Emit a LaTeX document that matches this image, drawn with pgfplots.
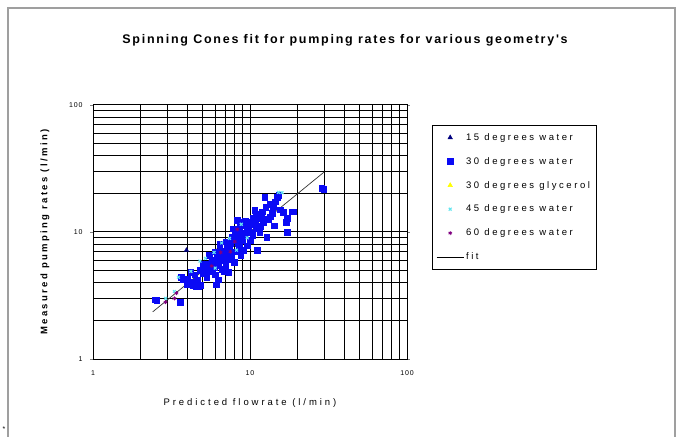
\documentclass[border=0pt]{standalone}
\usepackage{pgfplots}
\pgfplotsset{compat=1.18}
\usepackage{fontspec}
\setmainfont{Liberation Sans}
\newfontfamily\titlefont[LetterSpace=14]{Liberation Sans}
\newfontfamily\labfont[LetterSpace=31]{Liberation Sans}
\newfontfamily\ylabfont[LetterSpace=25]{Liberation Sans}
\newfontfamily\legfont[LetterSpace=27]{Liberation Sans}
\newfontfamily\tickfont[LetterSpace=12]{Liberation Sans}
\definecolor{navyc}{RGB}{0,0,128}
\definecolor{bluec}{RGB}{10,10,245}
\definecolor{cyanc}{RGB}{100,230,240}
\definecolor{purplec}{RGB}{128,0,128}
\definecolor{yellowc}{RGB}{255,255,0}
\begin{document}
\begin{tikzpicture}[x=1pt,y=1pt]
\path[use as bounding box] (0,0) rectangle (682,436);
\draw[gray!75, line width=1.2pt] (8,-3) -- (8,428) -- (675,428) -- (675,-3);
\node at (345,396) {\titlefont\bfseries\fontsize{12.5}{14}\selectfont Spinning Cones fit for pumping rates for various geometry's};
\node at (4,7) {\fontsize{7}{8}\selectfont *};
\begin{axis}[
  at={(93pt,77pt)}, anchor=south west,
  scale only axis, width=314pt, height=254pt,
  xmode=log, ymode=log,
  xmin=1, xmax=100, ymin=1, ymax=100,
  grid=both,
  major grid style={black, line width=1.0pt},
  minor grid style={black, line width=1.0pt},
  axis line style={black, line width=1.0pt},
  xtick={1,10,100}, ytick={1,10,100},
  xticklabels={1,10,100}, yticklabels={1,10,100},
  tick align=outside, major tick length=3pt, minor tick length=0pt,
  xtick style={draw=none},
  ticklabel style={font=\tickfont\fontsize{7}{8}\selectfont},
  xticklabel style={yshift=-5pt},
  yticklabel style={xshift=-4pt},
  xlabel={\labfont\fontsize{9.5}{11}\selectfont Predicted flowrate (l/min)},
  ylabel={\ylabfont\bfseries\fontsize{9.5}{11}\selectfont Measured pumping rates (l/min)},
  xlabel style={at={(axis description cs:0.5,-0.173)}, anchor=center},
  ylabel style={at={(axis description cs:-0.153,0.5)}, anchor=center},
  legend style={at={(1.0796,0.921)}, anchor=north west, draw=black, line width=0.6pt,
    fill=white, font=\legfont\fontsize{9.5}{10.5}\selectfont, row sep=11.5pt,
    inner xsep=4pt, inner ysep=6pt},
  legend cell align=left,
  legend image code/.code={\draw[mark repeat=2,mark phase=2,#1] plot coordinates {(0pt,0pt) (13.5pt,0pt) (27pt,0pt)};},
]
% 15 degrees water
\addplot[only marks, mark=triangle*, mark size=2.5pt, color=navyc] coordinates {
(3.94,7.2) (5.5,5.8) (7.1,6.2) (8.2,9.8) (10.5,10.2) (12.0,13.0) (6.3,7.4)
};
\addlegendentry{15 degrees water}
% 30 degrees water
\addplot[only marks, mark=square*, mark size=2.8pt, color=bluec] coordinates {
(2.48,2.92) (2.55,2.90) (3.58,2.81) (3.65,4.40) (3.75,4.25) (3.95,3.85) (4.15,4.05)
(4.35,3.80) (4.50,3.70) (4.70,3.75) (4.85,3.80) (4.45,4.60) (4.80,5.00) (5.00,4.70)
(5.20,5.30) (5.40,5.60) (5.00,5.60) (5.30,4.40) (5.60,4.90) (5.70,6.00) (5.90,5.30)
(6.10,3.85) (6.30,4.20) (6.00,4.60) (6.20,5.80) (6.40,6.30) (6.60,5.10) (6.70,6.00)
(6.90,6.70) (6.50,7.10) (7.00,5.40) (7.20,6.80) (7.30,4.80) (7.50,8.20) (7.40,7.40)
(7.60,6.20) (7.80,7.00) (7.90,5.80) (8.10,8.80) (8.30,12.40) (8.20,9.60) (8.50,7.60)
(8.60,10.90) (8.70,6.60) (9.00,8.60) (9.20,9.60) (9.40,11.20) (9.60,7.80) (9.80,10.20)
(10.00,8.60) (10.20,12.00) (10.40,9.40) (10.70,14.90) (10.90,10.60) (11.10,7.20)
(11.30,12.80) (11.50,10.00) (11.80,13.50) (12.10,11.80) (12.40,18.80) (12.60,15.60)
(12.80,9.10) (13.10,12.60) (13.40,16.50) (13.80,14.00) (14.20,11.20) (14.50,17.30)
(14.90,18.80) (15.20,19.50) (15.60,15.00) (16.30,14.30) (17.20,12.90) (17.20,10.00)
(18.40,14.40) (18.80,14.40) (17.00,12.00) (28.70,22.20) (29.50,21.70)
(5.50,6.60) (6.00,7.00) (6.20,6.60) (7.00,8.40) (7.70,9.20) (8.00,10.30) (8.80,9.90)
(9.30,12.30) (10.50,11.50) (11.00,13.80) (12.00,14.40) (4.20,4.80) (5.80,5.00)
(6.80,4.90) (7.30,6.10) (8.40,8.20) (9.10,7.20) (9.80,11.60) (10.40,13.00)
(4.00,4.30) (4.60,4.20) (5.10,5.00) (5.50,5.20) (6.30,5.50) (6.80,6.40) (7.10,7.60)
(7.60,8.60) (8.30,7.00) (8.90,8.90) (9.50,10.80) (10.10,9.90) (10.80,11.90)
(11.60,11.10) (12.30,12.50) (13.50,13.20) (14.00,15.80) (9.00,11.90) (7.80,10.60)
(6.40,8.00)
};
\addlegendentry{30 degrees water}
% 30 degrees glycerol (no visible points)
\addlegendimage{only marks, mark=triangle*, mark size=2.5pt, color=yellowc}
\addlegendentry{30 degrees glycerol}
% 45 degrees water
\addplot[only marks, mark=x, mark size=2pt, line width=1.1pt, color=cyanc] coordinates {
(2.9,3.0) (3.3,3.4) (3.5,4.4) (4.2,4.9) (4.8,5.9) (5.2,6.2) (5.9,6.9) (6.0,5.2)
(7.4,8.9) (8.2,7.2) (8.8,11.5) (9.6,9.0) (15.2,20.5) (16.0,20.4) (6.6,8.2)
};
\addlegendentry{45 degrees water}
% 60 degrees water
\addplot[only marks, mark=asterisk, mark size=2pt, line width=0.8pt, color=purplec] coordinates {
(2.9,2.8) (3.3,3.0) (3.4,3.3) (5.7,5.4) (6.5,6.9) (7.5,7.0) (8.0,8.4) (8.3,10.5)
};
\addlegendentry{60 degrees water}
% fit
\addplot[black!80, line width=0.7pt, no marks, legend image code/.code={\draw[black, line width=0.8pt] (0pt,0pt) -- (27pt,0pt);}] coordinates {
(2.4,2.35) (29.5,29.5)
};
\addlegendentry{fit}
\end{axis}
\end{tikzpicture}
\end{document}
